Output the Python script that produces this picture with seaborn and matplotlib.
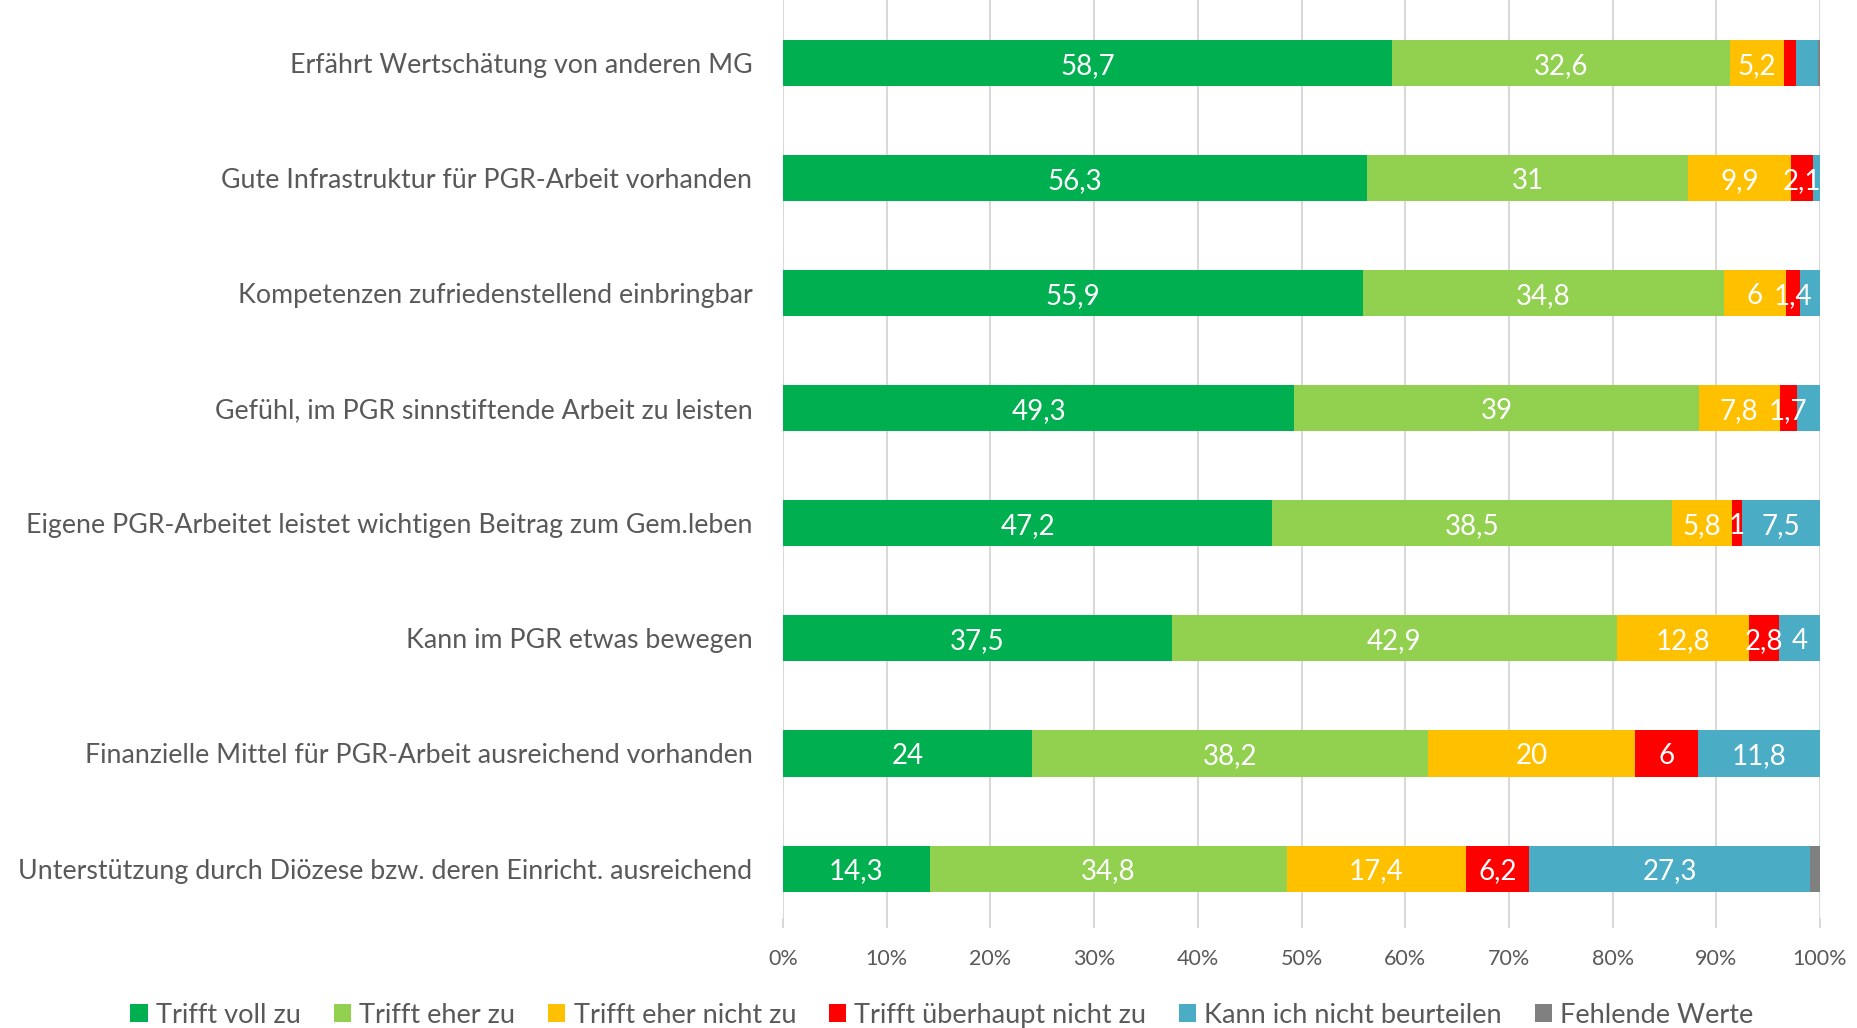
import numpy as np
import pandas as pd
import matplotlib
matplotlib.use("Agg")
import matplotlib.pyplot as plt
from matplotlib.patches import Patch
import seaborn as sns

categories = [
    "Erfährt Wertschätung von anderen MG",
    "Gute Infrastruktur für PGR-Arbeit vorhanden",
    "Kompetenzen zufriedenstellend einbringbar",
    "Gefühl, im PGR sinnstiftende Arbeit zu leisten",
    "Eigene PGR-Arbeitet leistet wichtigen Beitrag zum Gem.leben",
    "Kann im PGR etwas bewegen",
    "Finanzielle Mittel für PGR-Arbeit ausreichend vorhanden",
    "Unterstützung durch Diözese bzw. deren Einricht. ausreichend",
]
series_names = ["Trifft voll zu", "Trifft eher zu", "Trifft eher nicht zu",
                "Trifft überhaupt nicht zu", "Kann ich nicht beurteilen", "Fehlende Werte"]

voll       = [58.7, 56.3, 55.9, 49.3, 47.2, 37.5, 24.0, 14.3]
eher       = [32.6, 31.0, 34.8, 39.0, 38.5, 42.9, 38.2, 34.8]
eher_nicht = [5.2, 9.9, 6.0, 7.8, 5.8, 12.8, 20.0, 17.4]
gar_nicht  = [1.2, 2.1, 1.4, 1.7, 1.0, 2.8, 6.0, 6.2]
kann_nicht = [2.1, 0.7, 1.9, 2.2, 7.5, 4.0, 11.8, 27.3]
fehlend    = [0.2, 0.0, 0.0, 0.0, 0.0, 0.0, 0.0, 1.0]

# labels as displayed in the chart ("" = label not shown)
lab_voll       = ["58,7", "56,3", "55,9", "49,3", "47,2", "37,5", "24", "14,3"]
lab_eher       = ["32,6", "31", "34,8", "39", "38,5", "42,9", "38,2", "34,8"]
lab_eher_nicht = ["5,2", "9,9", "6", "7,8", "5,8", "12,8", "20", "17,4"]
lab_gar_nicht  = ["", "2,1", "1,4", "1,7", "1", "2,8", "6", "6,2"]
lab_kann_nicht = ["", "", "", "", "7,5", "4", "11,8", "27,3"]
lab_fehlend    = ["", "", "", "", "", "", "", ""]

colors = ["#00B050", "#92D050", "#FFC000", "#FF0000", "#4BACC6", "#808080"]

sns.set_theme(style="white")
plt.rcParams["font.family"] = ["Lato", "DejaVu Sans"]

vals = np.array([voll, eher, eher_nicht, gar_nicht, kann_nicht, fehlend])
labels = [lab_voll, lab_eher, lab_eher_nicht, lab_gar_nicht, lab_kann_nicht, lab_fehlend]
pct = vals / vals.sum(axis=0) * 100
cum = np.cumsum(pct, axis=0)

fig = plt.figure(figsize=(18.58, 10.28), dpi=100)
ax = fig.add_axes([783 / 1858, 1 - 918 / 1028, (1820 - 783) / 1858, 918 / 1028])

# draw cumulative totals from the outermost segment inwards
for i in range(len(series_names) - 1, -1, -1):
    df = pd.DataFrame({"cat": categories, "val": cum[i]})
    sns.barplot(data=df, y="cat", x="val", color=colors[i], saturation=1,
                width=0.4, orient="h", ax=ax, linewidth=0, zorder=3)

for i in range(len(series_names)):
    left = cum[i] - pct[i]
    for j in range(len(categories)):
        if labels[i][j]:
            ax.text(left[j] + pct[i][j] / 2, j, labels[i][j], ha="center",
                    va="center_baseline", color="white", fontsize=20, zorder=5)

ax.set_xlim(0, 100)
ax.set_ylim(7.43, -0.55)
ax.set_xticks(np.arange(0, 101, 10))
ax.set_xticklabels([f"{t}%" for t in range(0, 101, 10)])
ax.xaxis.grid(True, color="#D9D9D9", linewidth=1.5, zorder=0)
ax.set_axisbelow(True)
for s in ax.spines.values():
    s.set_visible(False)
ax.set_xlabel("")
ax.set_ylabel("")
ax.tick_params(axis="x", which="both", bottom=True, length=7, width=1.5,
               color="#D9D9D9", labelsize=15.5, labelcolor="#595959", pad=15)
ax.tick_params(axis="y", left=False, labelsize=19.3, labelcolor="#595959", pad=16)
for t in ax.get_yticklabels():
    t.set_verticalalignment("center_baseline")

handles = [Patch(facecolor=c, edgecolor="none", label=n) for c, n in zip(colors, series_names)]
fig.legend(handles=handles, loc="center", bbox_to_anchor=(0.507, 0.0125), ncol=6,
           frameon=False, fontsize=19.5, labelcolor="#595959", handlelength=0.65,
           handleheight=0.65, handletextpad=0.3, columnspacing=1.2)

fig.savefig("out.png", dpi=100)
